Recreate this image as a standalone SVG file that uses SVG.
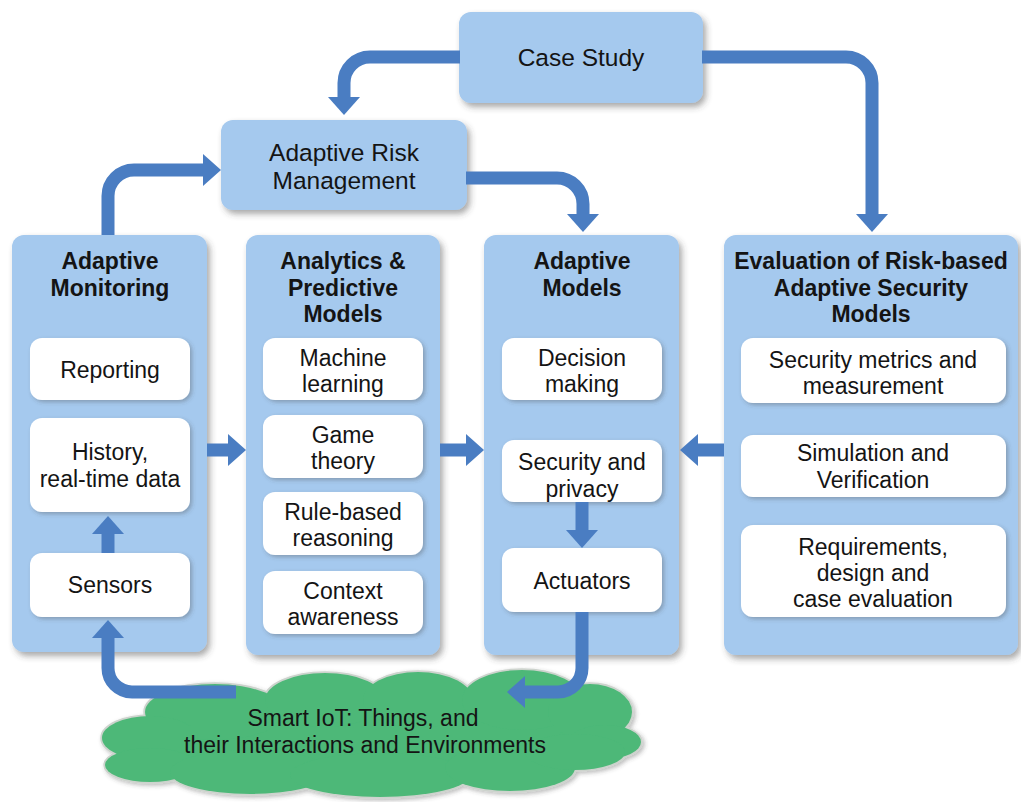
<svg xmlns="http://www.w3.org/2000/svg" width="1021" height="802" viewBox="0 0 1021 802">
  <style>
    .panel { fill: #a5c9ee; filter: url(#shadow); }
    .card { fill: #ffffff; filter: url(#shadowSmall); }
    .t { font-family: "Liberation Sans", Arial, sans-serif; font-size: 23px; fill: #141414; text-anchor: middle; }
    .big { font-size: 24.5px; }
    .h { font-weight: bold; font-size: 23px; }
    .link { fill: none; stroke: #4a7dc2; stroke-width: 13; marker-end: url(#head); }
  </style>
  <defs>
    <filter id="shadow" x="-10%" y="-10%" width="130%" height="130%">
      <feDropShadow dx="3" dy="4" stdDeviation="3" flood-color="#404040" flood-opacity="0.45"/>
    </filter>
    <filter id="shadowSmall" x="-10%" y="-10%" width="130%" height="130%">
      <feDropShadow dx="2" dy="2" stdDeviation="2" flood-color="#404040" flood-opacity="0.35"/>
    </filter>
    <marker id="head" viewBox="0 0 18 32" markerWidth="18" markerHeight="32" markerUnits="userSpaceOnUse" refX="1" refY="16" orient="auto">
      <path d="M0,0 L18,16 L0,32 Z" fill="#4a7dc2"/>
    </marker>
    <!-- cloud built from overlapping lobes -->
    <g id="cloudLobes">
      <ellipse cx="370" cy="735" rx="230" ry="45"/>
      <ellipse cx="215" cy="712" rx="70" ry="28"/>
      <ellipse cx="325" cy="700" rx="60" ry="27"/>
      <ellipse cx="418" cy="700" rx="55" ry="28"/>
      <ellipse cx="522" cy="700" rx="60" ry="30"/>
      <ellipse cx="590" cy="712" rx="42" ry="28"/>
      <ellipse cx="605" cy="742" rx="36" ry="17"/>
      <ellipse cx="150" cy="738" rx="48" ry="22"/>
      <ellipse cx="150" cy="765" rx="45" ry="17"/>
      <ellipse cx="250" cy="772" rx="80" ry="22"/>
      <ellipse cx="380" cy="775" rx="90" ry="22"/>
      <ellipse cx="510" cy="768" rx="65" ry="23"/>
      <ellipse cx="575" cy="752" rx="50" ry="18"/>
    </g>
  </defs>

  <rect width="1021" height="802" fill="#ffffff"/>

  <!-- Top boxes -->
  <g id="case-study">
    <rect class="panel" x="459" y="12" width="244" height="91" rx="12"/>
    <text class="t big" x="581" y="66">Case Study</text>
  </g>
  <g id="adaptive-risk-management">
    <rect class="panel" x="221" y="120" width="246" height="90" rx="12"/>
    <text class="t big" x="344" y="161">Adaptive Risk</text>
    <text class="t big" x="344" y="189">Management</text>
  </g>

  <!-- Columns -->
  <g id="adaptive-monitoring">
    <rect class="panel" x="12" y="235" width="195" height="417" rx="12"/>
    <text class="t h" x="110" y="269">Adaptive</text>
    <text class="t h" x="110" y="296">Monitoring</text>
    <g id="reporting">
      <rect class="card" x="30" y="338" width="160" height="62" rx="12"/>
      <text class="t" x="110" y="378">Reporting</text>
    </g>
    <g id="history">
      <rect class="card" x="30" y="418" width="160" height="94" rx="12"/>
      <text class="t" x="110" y="460">History,</text>
      <text class="t" x="110" y="487">real-time data</text>
    </g>
    <g id="sensors">
      <rect class="card" x="30" y="553" width="160" height="64" rx="12"/>
      <text class="t" x="110" y="593">Sensors</text>
    </g>
  </g>

  <g id="analytics-predictive-models">
    <rect class="panel" x="246" y="235" width="194" height="420" rx="12"/>
    <text class="t h" x="343" y="269">Analytics &amp;</text>
    <text class="t h" x="343" y="296">Predictive</text>
    <text class="t h" x="343" y="322">Models</text>
    <g id="machine-learning">
      <rect class="card" x="263" y="338" width="160" height="62" rx="12"/>
      <text class="t" x="343" y="366">Machine</text>
      <text class="t" x="343" y="392">learning</text>
    </g>
    <g id="game-theory">
      <rect class="card" x="263" y="415" width="160" height="63" rx="12"/>
      <text class="t" x="343" y="443">Game</text>
      <text class="t" x="343" y="469">theory</text>
    </g>
    <g id="rule-based-reasoning">
      <rect class="card" x="263" y="492" width="160" height="63" rx="12"/>
      <text class="t" x="343" y="520">Rule-based</text>
      <text class="t" x="343" y="546">reasoning</text>
    </g>
    <g id="context-awareness">
      <rect class="card" x="263" y="571" width="160" height="63" rx="12"/>
      <text class="t" x="343" y="599">Context</text>
      <text class="t" x="343" y="625">awareness</text>
    </g>
  </g>

  <g id="adaptive-models">
    <rect class="panel" x="484" y="235" width="195" height="420" rx="12"/>
    <text class="t h" x="582" y="269">Adaptive</text>
    <text class="t h" x="582" y="296">Models</text>
    <g id="decision-making">
      <rect class="card" x="502" y="338" width="160" height="62" rx="12"/>
      <text class="t" x="582" y="366">Decision</text>
      <text class="t" x="582" y="392">making</text>
    </g>
    <g id="security-privacy">
      <rect class="card" x="502" y="440" width="160" height="62" rx="12"/>
      <text class="t" x="582" y="470">Security and</text>
      <text class="t" x="582" y="497">privacy</text>
    </g>
    <g id="actuators">
      <rect class="card" x="502" y="548" width="160" height="64" rx="12"/>
      <text class="t" x="582" y="589">Actuators</text>
    </g>
  </g>

  <g id="evaluation">
    <rect class="panel" x="724" y="235" width="294" height="420" rx="12"/>
    <text class="t h" x="871" y="269">Evaluation of Risk-based</text>
    <text class="t h" x="871" y="296">Adaptive Security</text>
    <text class="t h" x="871" y="322">Models</text>
    <g id="security-metrics">
      <rect class="card" x="741" y="338" width="265" height="65" rx="12"/>
      <text class="t" x="873" y="368">Security metrics and</text>
      <text class="t" x="873" y="394">measurement</text>
    </g>
    <g id="simulation-verification">
      <rect class="card" x="741" y="435" width="265" height="62" rx="12"/>
      <text class="t" x="873" y="461">Simulation and</text>
      <text class="t" x="873" y="488">Verification</text>
    </g>
    <g id="requirements-design">
      <rect class="card" x="741" y="525" width="265" height="92" rx="12"/>
      <text class="t" x="873" y="555">Requirements,</text>
      <text class="t" x="873" y="581">design and</text>
      <text class="t" x="873" y="607">case evaluation</text>
    </g>
  </g>

  <!-- IoT environment cloud: outlined lobes underneath, plain fill on top -->
  <g id="smart-iot">
    <g filter="url(#shadowSmall)">
      <use href="#cloudLobes" fill="#cdd3cd" stroke="#cdd3cd" stroke-width="3.5"/>
      <use href="#cloudLobes" fill="#4db878"/>
    </g>
    <text class="t" x="363" y="726">Smart IoT: Things, and</text>
    <text class="t" x="365" y="753">their Interactions and Environments</text>
  </g>

  <!-- Connectors -->
  <g id="connectors">
    <path class="link" d="M 460 57 H 370 A 26 26 0 0 0 344 83 V 98"/>
    <path class="link" d="M 702 57 H 846 A 26 26 0 0 1 872 83 V 215"/>
    <path class="link" d="M 466 178 H 557 A 26 26 0 0 1 583 204 V 215"/>
    <path class="link" d="M 108 235 V 196 A 26 26 0 0 1 134 170 H 204"/>
    <path class="link" d="M 207 450 H 229"/>
    <path class="link" d="M 440 450 H 467"/>
    <path class="link" d="M 724 450 H 697"/>
    <path class="link" d="M 108 553 V 533"/>
    <path class="link" d="M 582 502 V 531"/>
    <path class="link" d="M 582 612 V 668 A 24 24 0 0 1 558 692 H 524"/>
    <path class="link" d="M 236 692 H 132 A 24 24 0 0 1 108 668 V 637"/>
  </g>
</svg>
